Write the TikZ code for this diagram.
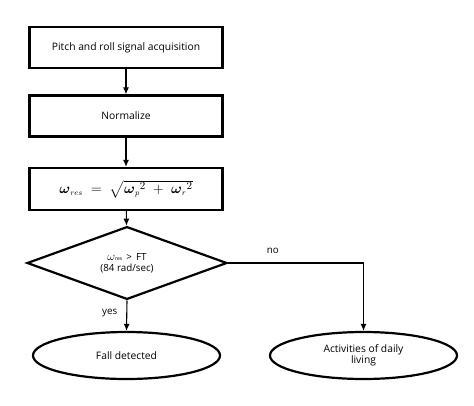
\documentclass[tikz,border=0pt]{standalone}
\usepackage{amsmath}
\usepackage{fontspec}
\setmainfont{Open Sans}
\usetikzlibrary{shapes.geometric,arrows.meta}
\tikzset{
  stepbox/.style={draw, line width=2.2pt, minimum width=193pt, minimum height=41pt, inner sep=0pt, font=\fontsize{10.3}{12}\selectfont},
  decision/.style={draw, diamond, line width=2.2pt, minimum width=200pt, minimum height=50pt, inner sep=0pt, align=center, font=\fontsize{9.8}{11}\selectfont},
  terminal/.style={draw, ellipse, line width=2.2pt, minimum width=187pt, minimum height=47pt, inner sep=0pt, align=center, font=\fontsize{10.3}{11.5}\selectfont},
  flow/.style={line width=1.1pt, -{Latex[length=7pt,width=6pt]}},
  lbl/.style={font=\fontsize{9.8}{11}\selectfont, inner sep=0pt}
}
\begin{document}
\begin{tikzpicture}[x=1pt,y=-1pt]
\useasboundingbox (0,0) rectangle (474,405);
\node[stepbox] (b1) at (126,47.5) {Pitch and roll signal acquisition};
\node[stepbox] (b2) at (126,116) {Normalize};
\node[stepbox, minimum height=42pt] (b3) at (126,189) {\fontsize{15.5}{18}\selectfont$\boldsymbol{\omega}_{\scriptscriptstyle res} \;=\; \sqrt{\boldsymbol{\omega}_{\scriptscriptstyle p}{}^{2} \;+\; \boldsymbol{\omega}_{\scriptscriptstyle r}{}^{2}}$};
\node[decision] (d) at (127,263) {{\fontsize{12}{12}\selectfont$\omega$}{\fontsize{5}{5}\selectfont res} \,>\, FT\\(84 rad/sec)};
\node[terminal] (e1) at (126.5,355.5) {Fall detected};
\node[terminal] (e2) at (363.5,355.5) {Activities of daily\\living};
\coordinate (c) at (363.5,263);
\draw[flow] (b1) -- (b2);
\draw[flow] (b2) -- (b3);
\draw[flow] (b3) -- (d);
\draw[flow] (d.south) -- node[lbl, left=9pt, pos=0.4] (yes) {yes} (e1.north);
\draw[flow] (d.east) -- node[lbl, above=9pt, pos=0.33] (no) {no} (c) -- (e2.north);
\end{tikzpicture}
\end{document}
